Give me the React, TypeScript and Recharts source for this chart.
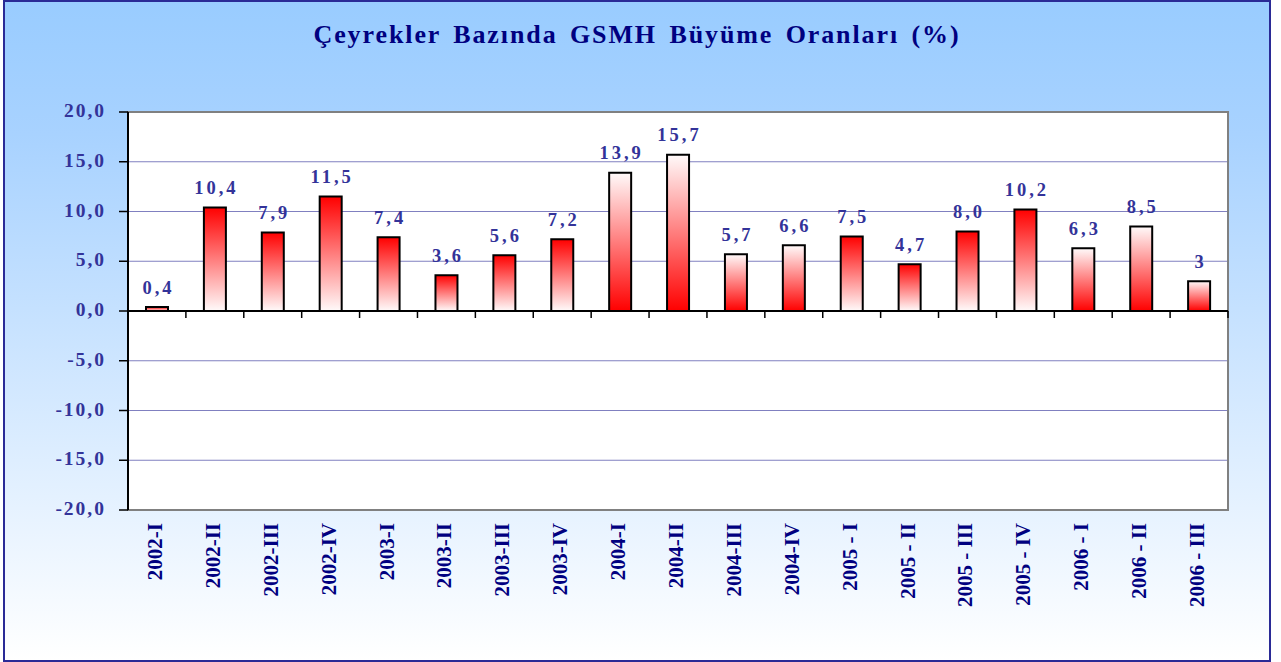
import React from 'react';
import {
  BarChart,
  Bar,
  XAxis,
  YAxis,
  CartesianGrid,
  ReferenceLine,
  ReferenceArea,
  LabelList,
  Cell,
} from 'recharts';

// ---------- data ----------
const categories = [
  '2002-I', '2002-II', '2002-III', '2002-IV',
  '2003-I', '2003-II', '2003-III', '2003-IV',
  '2004-I', '2004-II', '2004-III', '2004-IV',
  '2005 - I', '2005 - II', '2005 - III', '2005 - IV',
  '2006 - I', '2006 - II', '2006 - III',
];
const growth = [0.4, 10.4, 7.9, 11.5, 7.4, 3.6, 5.6, 7.2, 13.9, 15.7, 5.7, 6.6, 7.5, 4.7, 8.0, 10.2, 6.3, 8.5, 3];
const valueLabels = ['0,4', '10,4', '7,9', '11,5', '7,4', '3,6', '5,6', '7,2', '13,9', '15,7', '5,7', '6,6', '7,5', '4,7', '8,0', '10,2', '6,3', '8,5', '3'];
const yTicks = [-20, -15, -10, -5, 0, 5, 10, 15, 20];
const chartTitle = 'Çeyrekler Bazında GSMH Büyüme Oranları (%)';

// style: gradient direction per bar (red at top or red at bottom)
const barGradients = [
  'redTop', 'redTop', 'redTop', 'redTop', 'redTop', 'redTop', 'redTop', 'redTop',
  'redBottom', 'redBottom', 'redBottom', 'redBottom',
  'redTop', 'redTop', 'redTop', 'redTop',
  'redBottom', 'redBottom', 'redBottom',
];

const data = categories.map((c, i) => ({ category: c, value: growth[i], label: valueLabels[i] }));

// ---------- layout ----------
const W = 1281;
const H = 662;
const PLOT_LEFT = 128;
const PLOT_RIGHT = 1228;
const PLOT_TOP = 112;
const PLOT_BOTTOM = 510;
const ZERO_Y = (PLOT_TOP + PLOT_BOTTOM) / 2;
const BAND = (PLOT_RIGHT - PLOT_LEFT) / categories.length;
const FONT = '"Liberation Serif", "Times New Roman", serif';

const XTick = (props: any) => {
  const { x, payload } = props;
  const index = props.index ?? payload?.index ?? 0;
  const half = typeof payload?.offset === 'number' && payload.offset > 0 ? payload.offset : BAND / 2;
  const last = index === categories.length - 1;
  return (
    <g>
      <line x1={x - half} x2={x - half} y1={ZERO_Y} y2={ZERO_Y + 7} stroke="#000" strokeWidth={1.5} />
      {last && <line x1={x + half} x2={x + half} y1={ZERO_Y} y2={ZERO_Y + 7} stroke="#000" strokeWidth={1.5} />}
      <text
        transform={`translate(${x + 5},${PLOT_BOTTOM + 13}) rotate(-90)`}
        textAnchor="end"
        fill="#000080"
        fontFamily={FONT}
        fontWeight="bold"
        fontSize={21}
      >
        {payload.value}
      </text>
    </g>
  );
};

const YTick = (props: any) => {
  const { x, y, payload } = props;
  return (
    <text
      x={x}
      y={y + 5}
      textAnchor="end"
      fill="#333399"
      fontFamily={FONT}
      fontWeight="bold"
      fontSize={19.5}
      letterSpacing={2}
    >
      {Number(payload.value).toFixed(1).replace('.', ',')}
    </text>
  );
};

const renderLabel = (props: any) => {
  const { x, y, width, value } = props;
  return (
    <text
      x={Number(x) + Number(width) / 2 + 1.5}
      y={Number(y) - 13.5}
      textAnchor="middle"
      fill="#333399"
      fontFamily={FONT}
      fontWeight="bold"
      fontSize={18.5}
      letterSpacing={3}
    >
      {value}
    </text>
  );
};

export default function App() {
  return (
    <div style={{ position: 'absolute', left: 0, top: 0, width: W, height: H, overflow: 'hidden' }}>
      <div
        style={{
          position: 'absolute',
          left: 3,
          top: 0,
          width: 1268,
          height: 662,
          boxSizing: 'border-box',
          border: '2px solid #2a2a96',
          background: 'linear-gradient(to bottom, #99ccff 0%, #a8d2ff 20%, #ffffff 100%)',
        }}
      />
      <div style={{ position: 'absolute', left: 0, top: 0 }}>
        <BarChart
          width={W}
          height={H}
          data={data}
          margin={{ top: PLOT_TOP, right: W - PLOT_RIGHT, bottom: 0, left: 0 }}
          barCategoryGap={0}
        >
          <defs>
            <linearGradient id="redTop" x1="0" y1="0" x2="0" y2="1">
              <stop offset="0%" stopColor="#ff0000" />
              <stop offset="100%" stopColor="#fffafa" />
            </linearGradient>
            <linearGradient id="redBottom" x1="0" y1="0" x2="0" y2="1">
              <stop offset="0%" stopColor="#fffafa" />
              <stop offset="100%" stopColor="#ff0000" />
            </linearGradient>
          </defs>
          <CartesianGrid vertical={false} stroke="#8080c0" strokeWidth={1.2} fill="#ffffff" />
          <ReferenceArea y1={-20} y2={20} fill="none" stroke="#808080" strokeWidth={2} ifOverflow="visible" />
          <XAxis
            dataKey="category"
            interval={0}
            axisLine={false}
            tickLine={false}
            height={H - PLOT_BOTTOM}
            tick={<XTick />}
          />
          <YAxis
            domain={[-20, 20]}
            ticks={yTicks}
            width={PLOT_LEFT}
            axisLine={{ stroke: '#000', strokeWidth: 2 }}
            tickLine={{ stroke: '#000', strokeWidth: 1.5 }}
            tickSize={9}
            tickMargin={13}
            tick={<YTick />}
            allowDataOverflow
          />
          <ReferenceLine y={0} stroke="#000" strokeWidth={2} />
          <Bar dataKey="value" barSize={22} stroke="#000" strokeWidth={2} isAnimationActive={false}>
            {data.map((d, i) => (
              <Cell key={d.category} fill={`url(#${barGradients[i]})`} />
            ))}
            <LabelList dataKey="label" content={renderLabel} />
          </Bar>
        </BarChart>
      </div>
      <svg
        width={W}
        height={80}
        style={{ position: 'absolute', left: 0, top: 0, pointerEvents: 'none' }}
      >
        <text
          x={637}
          y={43}
          textAnchor="middle"
          fill="#000080"
          fontFamily={FONT}
          fontWeight="bold"
          fontSize={26}
          letterSpacing={1.9}
          wordSpacing={4}
        >
          {chartTitle}
        </text>
      </svg>
    </div>
  );
}
